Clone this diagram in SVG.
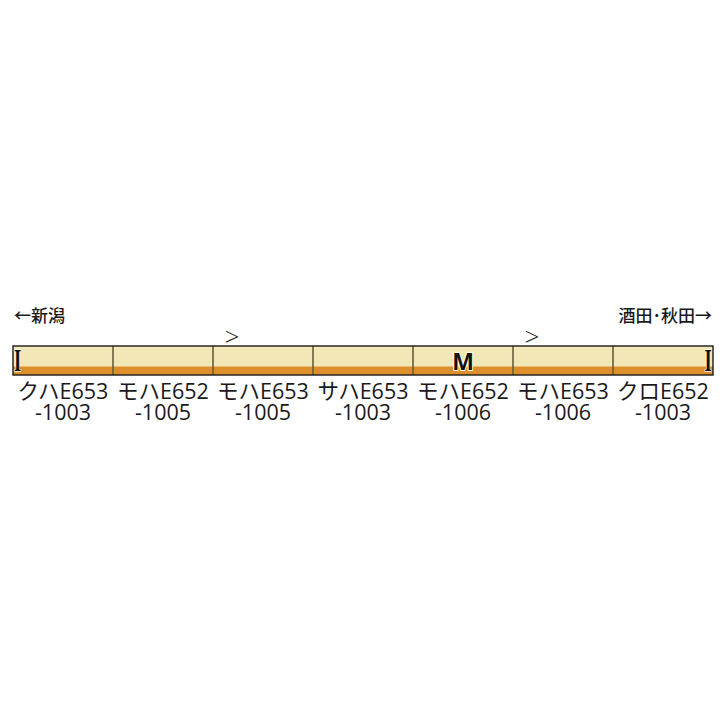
<svg xmlns="http://www.w3.org/2000/svg" width="727" height="727" viewBox="0 0 727 727">
<style>
.body{fill:#F2E8B7;}
.stripe{fill:#DE8F2B;}
.div{stroke:#6B5B3C;stroke-width:1.6;}
.outline{fill:none;stroke:#1A1A1A;stroke-width:1.4;}
.lbl{font-family:"Open Sans","Noto Sans CJK JP",sans-serif;font-size:21.5px;fill:#1A1A1A;text-anchor:middle;}
.dir{font-family:"Noto Sans CJK JP","Noto Sans",sans-serif;font-size:17px;font-weight:500;fill:#1A1A1A;}
.mark{font-family:"Liberation Serif",serif;font-size:31px;font-weight:bold;fill:#111;stroke:#FFFBE0;stroke-width:1.6;paint-order:stroke;text-anchor:middle;}
.mot{font-family:"Open Sans","Noto Sans",sans-serif;font-size:23px;font-weight:bold;fill:#111;stroke:#FFFBE0;stroke-width:2;paint-order:stroke;text-anchor:middle;}
.pan{font-family:"Open Sans",sans-serif;font-size:26px;font-weight:300;fill:#1A1A1A;text-anchor:middle;}
</style>
<text class="dir" x="14" y="322">←新潟</text>
<text class="dir" x="712" y="322" text-anchor="end">酒田･秋田→</text>
<g id="train">
<rect class="body" x="13" y="346" width="700" height="29"/>
<rect class="stripe" x="13" y="366.5" width="700" height="8.5"/>
</g>
<g id="connectors">
<line class="div" x1="113" y1="346" x2="113" y2="375"/>
<line class="div" x1="213" y1="346" x2="213" y2="375"/>
<line class="div" x1="313" y1="346" x2="313" y2="375"/>
<line class="div" x1="413" y1="346" x2="413" y2="375"/>
<line class="div" x1="513" y1="346" x2="513" y2="375"/>
<line class="div" x1="613" y1="346" x2="613" y2="375"/>
<rect class="outline" x="13" y="346" width="700" height="29"/>
</g>
<g id="car1">
<text class="mark" transform="translate(17.5,371) scale(0.6,1)" x="0" y="0">I</text>
<text class="lbl"><tspan x="63" y="399">クハE653</tspan><tspan x="63" y="420">-1003</tspan></text>
</g>
<g id="car2">
<text class="lbl"><tspan x="163" y="399">モハE652</tspan><tspan x="163" y="420">-1005</tspan></text>
</g>
<g id="car3">
<text class="pan" x="232" y="346">&gt;</text>
<text class="lbl"><tspan x="263" y="399">モハE653</tspan><tspan x="263" y="420">-1005</tspan></text>
</g>
<g id="car4">
<text class="lbl"><tspan x="363" y="399">サハE653</tspan><tspan x="363" y="420">-1003</tspan></text>
</g>
<g id="car5">
<text class="mot" x="463" y="370">M</text>
<text class="lbl"><tspan x="463" y="399">モハE652</tspan><tspan x="463" y="420">-1006</tspan></text>
</g>
<g id="car6">
<text class="pan" x="532" y="346">&gt;</text>
<text class="lbl"><tspan x="563" y="399">モハE653</tspan><tspan x="563" y="420">-1006</tspan></text>
</g>
<g id="car7">
<text class="mark" transform="translate(708,371) scale(0.6,1)" x="0" y="0">I</text>
<text class="lbl"><tspan x="663" y="399">クロE652</tspan><tspan x="663" y="420">-1003</tspan></text>
</g>
</svg>
